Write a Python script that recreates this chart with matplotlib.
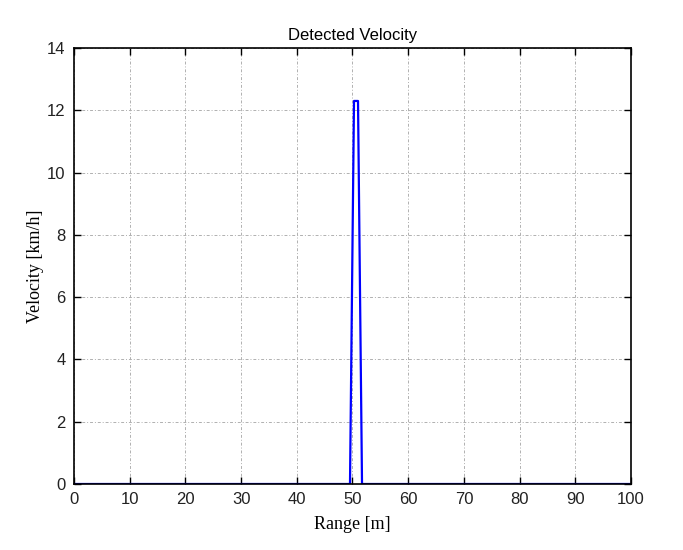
import matplotlib.pyplot as plt

# detected velocity profile vs range
range_m = [0, 49.55, 50.27, 50.99, 51.71, 100]
velocity_kmh = [0, 0, 12.3, 12.3, 0, 0]
x_ticks = list(range(0, 101, 10))
y_ticks = list(range(0, 15, 2))

fig = plt.figure(figsize=(6.83, 5.5), dpi=100)
ax = fig.add_axes([0.1083, 0.12, 0.8156, 0.7927])

ax.plot(range_m, velocity_kmh, color="#0000ff", linewidth=1.6)

ax.set_xlim(0, 100)
ax.set_ylim(0, 14)
ax.set_xticks(x_ticks)
ax.set_yticks(y_ticks)
ax.grid(True, color="#b0b0b0", linestyle=(0, (3, 2, 1, 2)), linewidth=0.7)
ax.tick_params(direction="in", top=True, right=True, length=5, width=1,
               labelsize=12, pad=6, labelcolor="#222222")
for lbl in ax.get_xticklabels() + ax.get_yticklabels():
    lbl.set_family("Liberation Sans")
for s in ax.spines.values():
    s.set_linewidth(1.2)

ax.set_title("Detected Velocity", fontsize=12, family="Liberation Sans", pad=6)
ax.set_xlabel("Range [m]", fontsize=13, family="Liberation Serif", labelpad=6)
ax.set_ylabel("Velocity [km/h]", fontsize=13, family="Liberation Serif", labelpad=2)

fig.savefig("out.png", dpi=100)
